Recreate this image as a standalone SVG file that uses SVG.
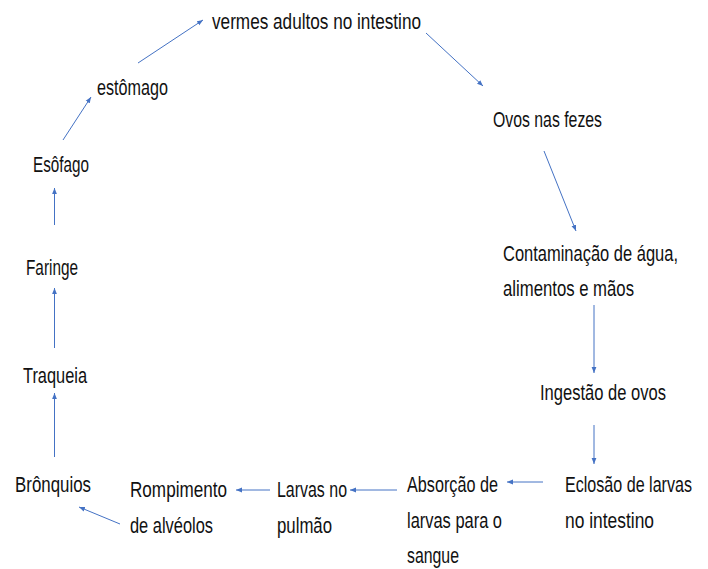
<svg xmlns="http://www.w3.org/2000/svg" width="708" height="569" viewBox="0 0 708 569">
<style>
text{font-family:"Liberation Sans",Arial,sans-serif;font-size:22px;fill:#111}
text.s{font-size:16px}
.c line{stroke:#4472C4;stroke-width:1;marker-end:url(#ah)}
</style>
<defs>
<marker id="ah" viewBox="0 0 10 10" refX="10" refY="5" markerWidth="6" markerHeight="6" markerUnits="userSpaceOnUse" orient="auto">
<path d="M0,1 L10,5 L0,9 z" fill="#4472C4"/>
</marker>
</defs>
<rect width="708" height="569" fill="#fff"/>
<g id="n-vermes"><text x="212" y="29" textLength="209" lengthAdjust="spacingAndGlyphs">vermes adultos no intestino</text></g>
<g id="n-ovos"><text x="493" y="127" textLength="109" lengthAdjust="spacingAndGlyphs">Ovos nas fezes</text></g>
<g id="n-contaminacao"><text class="s" transform="translate(503,261) scale(1,1.375)" x="0" y="0" textLength="175" lengthAdjust="spacingAndGlyphs">Contaminação de água,</text><text x="503" y="296" textLength="131" lengthAdjust="spacingAndGlyphs">alimentos e mãos</text></g>
<g id="n-ingestao"><text x="540" y="400" textLength="126" lengthAdjust="spacingAndGlyphs">Ingestão de ovos</text></g>
<g id="n-eclosao"><text class="s" transform="translate(565,492) scale(1,1.375)" x="0" y="0" textLength="127" lengthAdjust="spacingAndGlyphs">Eclosão de larvas</text><text x="565" y="528" textLength="89" lengthAdjust="spacingAndGlyphs">no intestino</text></g>
<g id="n-absorcao"><text x="407" y="492" textLength="91" lengthAdjust="spacingAndGlyphs">Absorção de</text><text x="407" y="528" textLength="95" lengthAdjust="spacingAndGlyphs">larvas para o</text><text x="407" y="563" textLength="52" lengthAdjust="spacingAndGlyphs">sangue</text></g>
<g id="n-larvas"><text x="277" y="497" textLength="70" lengthAdjust="spacingAndGlyphs">Larvas no</text><text x="277" y="533" textLength="55" lengthAdjust="spacingAndGlyphs">pulmão</text></g>
<g id="n-rompimento"><text x="130" y="497" textLength="97" lengthAdjust="spacingAndGlyphs">Rompimento</text><text x="130" y="533" textLength="83" lengthAdjust="spacingAndGlyphs">de alvéolos</text></g>
<g id="n-bronquios"><text x="15" y="492" textLength="76" lengthAdjust="spacingAndGlyphs">Brônquios</text></g>
<g id="n-traqueia"><text x="23" y="383" textLength="64" lengthAdjust="spacingAndGlyphs">Traqueia</text></g>
<g id="n-faringe"><text x="26" y="275" textLength="52" lengthAdjust="spacingAndGlyphs">Faringe</text></g>
<g id="n-esofago"><text x="33" y="172" textLength="56" lengthAdjust="spacingAndGlyphs">Esôfago</text></g>
<g id="n-estomago"><text x="97" y="95" textLength="71" lengthAdjust="spacingAndGlyphs">estômago</text></g>
<g id="connectors" class="c">
<line x1="426" y1="33" x2="483" y2="86"/>
<line x1="544" y1="151" x2="576" y2="231"/>
<line x1="594" y1="305" x2="594" y2="373"/>
<line x1="594" y1="425" x2="594" y2="464"/>
<line x1="543" y1="482" x2="507" y2="482"/>
<line x1="397" y1="490" x2="350" y2="490"/>
<line x1="270" y1="490" x2="236" y2="490"/>
<line x1="120" y1="524" x2="79" y2="507"/>
<line x1="54.5" y1="457" x2="54.5" y2="393"/>
<line x1="54.5" y1="348" x2="54.5" y2="288"/>
<line x1="54.5" y1="225" x2="54.5" y2="188"/>
<line x1="63" y1="140" x2="91" y2="97"/>
<line x1="138" y1="63" x2="203" y2="20"/>
</g>
</svg>
